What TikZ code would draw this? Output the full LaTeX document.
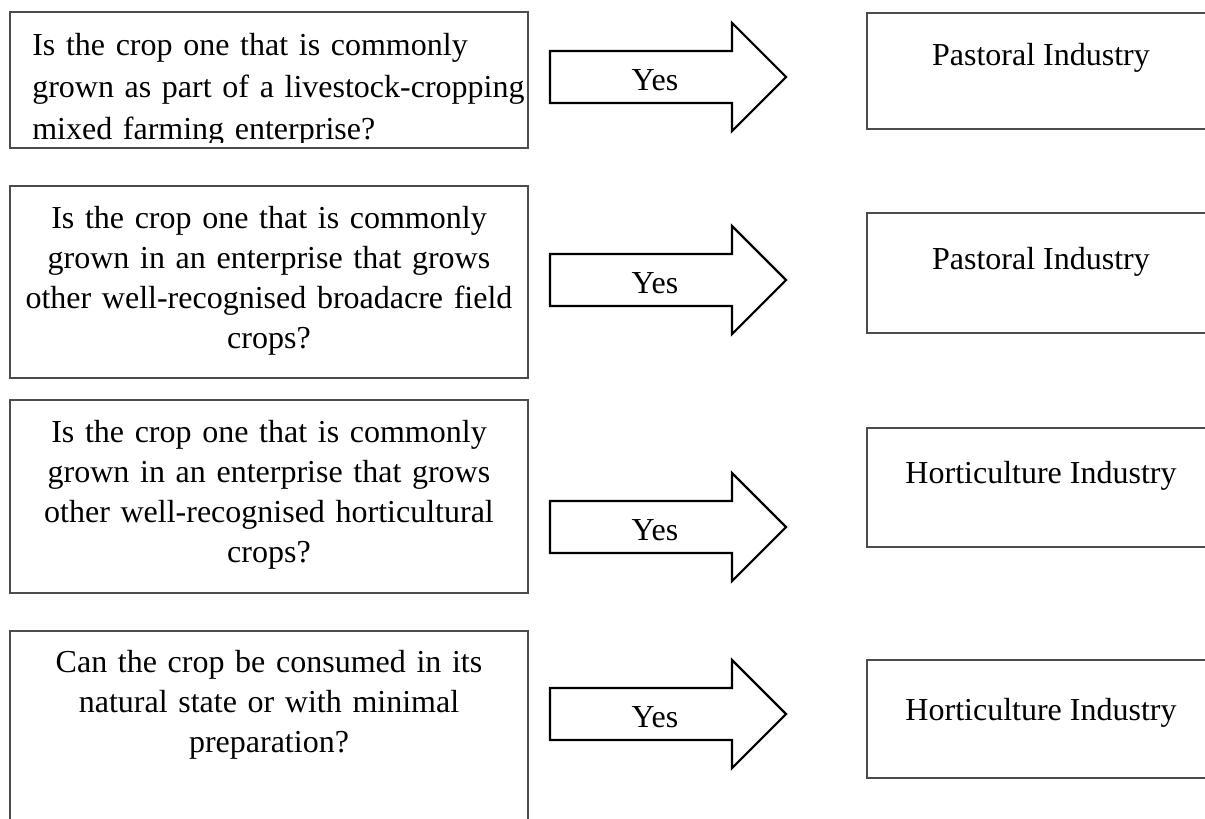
\documentclass[tikz,border=0pt]{standalone}
\usepackage{fontspec}
\setmainfont{Liberation Serif}
\newcommand{\yesarrowat}[2]{%
  \coordinate (#2s) at (550,#1);
  \coordinate (#2t) at (786,#1);
  \draw[blockarrow] (550,{#1-26}) -- (732,{#1-26}) -- (732,{#1-54}) -- (#2t)
    -- (732,{#1+54}) -- (732,{#1+26}) -- (550,{#1+26}) -- cycle;}
\begin{document}
\begin{tikzpicture}[x=0.75pt,y=-0.75pt,
  boxline/.style={draw=black!70, line width=0.8pt},
  lbox/.style={boxline, minimum width=388.5pt, inner sep=0pt, outer sep=0pt},
  rbox/.style={boxline, minimum width=261pt, inner sep=0pt, outer sep=0pt},
  blockarrow/.style={draw=black, line width=1.6pt, line join=miter, fill=white},
  big/.style={font=\fontsize{24}{30}\selectfont, inner sep=0pt, anchor=base},
  qtext/.style={big, text width=380pt, align=center},
  ltext/.style={font=\fontsize{24}{31.5}\selectfont, inner sep=0pt, anchor=base west, text width=385pt, align=left}
]
\useasboundingbox (0,0) rectangle (1205,818);
\fill[white] (0,0) rectangle (1205,818);
\clip (0,0) rectangle (1205,818);

% left question boxes
\node[lbox, minimum height=102pt] (b1) at (269,80) {};
\node[lbox, minimum height=144pt] (b2) at (269,282) {};
\node[lbox, minimum height=144.75pt] (b3) at (269,496.5) {};
\node[lbox, minimum height=164.25pt] (b4) at (269,740.5) {};

% right answer boxes
\node[rbox, minimum height=87pt] (r1) at (1041,71) {};
\node[rbox, minimum height=90pt] (r2) at (1041,273) {};
\node[rbox, minimum height=89.25pt] (r3) at (1041,487.5) {};
\node[rbox, minimum height=88.5pt] (r4) at (1041,719) {};

% question texts
\begin{scope}
  \clip (10,12) rectangle (528,142.5);
  \node[ltext] (t1) at (32,55) {Is the crop one that is commonly\\grown as part of a livestock-cropping\\mixed farming enterprise?};
\end{scope}
\node[qtext] (t2) at (269,228) {Is the crop one that is commonly\\grown in an enterprise that grows\\other well-recognised broadacre field\\crops?};
\node[qtext] (t3) at (269,442) {Is the crop one that is commonly\\grown in an enterprise that grows\\other well-recognised horticultural\\crops?};
\node[qtext] (t4) at (269,672) {Can the crop be consumed in its\\natural state or with minimal\\preparation?};

% answer texts
\node[big] (p1) at (1041,65) {Pastoral Industry};
\node[big] (p2) at (1041,269) {Pastoral Industry};
\node[big] (p3) at (1041,483) {Horticulture Industry};
\node[big] (p4) at (1041,720) {Horticulture Industry};

% block arrows
\yesarrowat{77}{a1}
\yesarrowat{280}{a2}
\yesarrowat{527}{a3}
\yesarrowat{714}{a4}
\node[big] (y1) at (655,90) {Yes};
\node[big] (y2) at (655,293) {Yes};
\node[big] (y3) at (655,540) {Yes};
\node[big] (y4) at (655,727) {Yes};
\end{tikzpicture}
\end{document}
